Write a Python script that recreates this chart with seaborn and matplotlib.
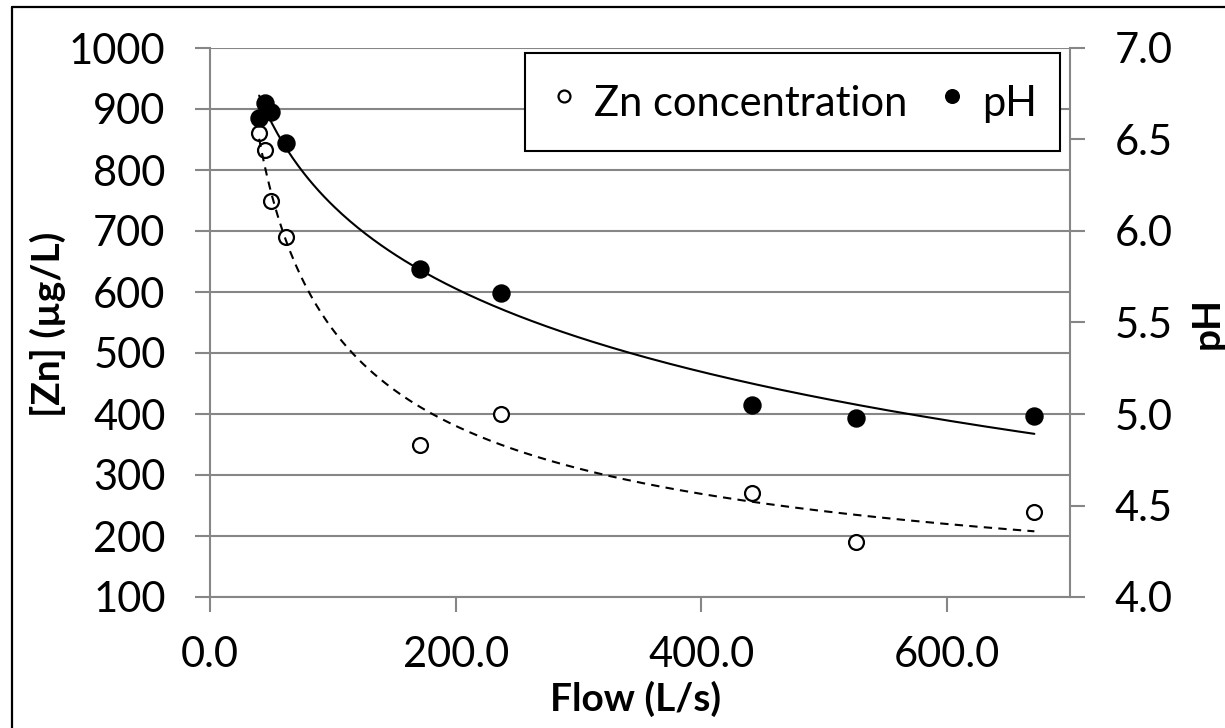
import numpy as np
import matplotlib
matplotlib.use("Agg")
import matplotlib.pyplot as plt
from matplotlib.lines import Line2D
from matplotlib.ticker import FormatStrFormatter
import seaborn as sns

# ---- data ----
flow = [40, 45, 50, 62, 171, 237, 441, 526, 671]
zn = [860, 832, 750, 690, 350, 400, 270, 190, 240]
ph = [6.62, 6.70, 6.65, 6.48, 5.79, 5.66, 5.05, 4.98, 4.99]
x_ticks = [0, 200, 400, 600]
zn_ticks = list(range(100, 1001, 100))
ph_ticks = [4.0, 4.5, 5.0, 5.5, 6.0, 6.5, 7.0]
zn_label = "Zn concentration"
ph_label = "pH"

sns.set_theme(style="white")
plt.rcParams["font.family"] = ["Lato", "DejaVu Sans"]

W, H = 1225, 728
fig = plt.figure(figsize=(W / 100, H / 100), dpi=100)
ax = fig.add_axes([210 / W, 1 - 597 / H, 860 / W, 549 / H])
ax2 = ax.twinx()

grey = "#868686"

# scatter points
sns.scatterplot(x=flow, y=zn, ax=ax, marker="o", color="white",
                edgecolor="black", linewidth=1.6, s=115, label=zn_label, zorder=3)
sns.scatterplot(x=flow, y=ph, ax=ax2, marker="o", color="black",
                edgecolor="black", linewidth=1.0, s=150, label=ph_label, zorder=3)

# trendlines (Excel-style fits computed from the data)
fx = np.linspace(min(flow), max(flow), 300)
b_zn, a_zn = np.polyfit(np.log(flow), np.log(zn), 1)  # power fit
ax.plot(fx, np.exp(a_zn) * fx ** b_zn, color="black", lw=1.5,
        linestyle=(0, (4, 3)), zorder=4)
b_ph, a_ph = np.polyfit(np.log(flow), ph, 1)  # logarithmic fit
ax2.plot(fx, a_ph + b_ph * np.log(fx), color="black", lw=1.5, zorder=4)

# axes ranges / ticks
ax.set_xlim(0, 700)
ax.set_ylim(100, 1000)
ax2.set_ylim(4.0, 7.0)
ax.set_xticks(x_ticks)
ax.set_yticks(zn_ticks)
ax2.set_yticks(ph_ticks)
ax.xaxis.set_major_formatter(FormatStrFormatter("%.1f"))
ax2.yaxis.set_major_formatter(FormatStrFormatter("%.1f"))

tick_fs = 30
ax.tick_params(axis="y", direction="out", length=11, width=1.5, color=grey,
               labelsize=tick_fs, pad=21, left=True, labelcolor="black")
ax.tick_params(axis="x", direction="out", length=11, width=1.5, color=grey,
               labelsize=tick_fs, pad=17, bottom=True, labelcolor="black")
ax2.tick_params(axis="y", direction="out", length=11, width=1.5, color=grey,
                labelsize=tick_fs, pad=21, right=True, labelcolor="black")

ax.grid(False)
ax2.grid(False)
ax.yaxis.grid(True, color=grey, lw=1.5)
ax.set_axisbelow(True)

for s in ["top", "right"]:
    ax.spines[s].set_visible(False)
for s in ["left", "bottom"]:
    ax.spines[s].set_color(grey)
    ax.spines[s].set_linewidth(1.5)
for s in ["top", "left", "bottom"]:
    ax2.spines[s].set_visible(False)
ax2.spines["right"].set_color(grey)
ax2.spines["right"].set_linewidth(1.5)

ax.set_xlabel("")
ax.set_ylabel("")
ax2.set_ylabel("")

# legend
h1, l1 = ax.get_legend_handles_labels()
h2, l2 = ax2.get_legend_handles_labels()
if ax.get_legend() is not None:
    ax.get_legend().remove()
if ax2.get_legend() is not None:
    ax2.get_legend().remove()
leg = ax2.legend(h1 + h2, l1 + l2, loc="upper left",
                 bbox_to_anchor=(525 / W, 1 - 53 / H), bbox_transform=fig.transFigure,
                 ncol=2, fontsize=30, frameon=True, fancybox=False,
                 edgecolor="black", facecolor="white", framealpha=1,
                 markerscale=0.8, borderpad=0.55, handlelength=0.75,
                 handleheight=1.55, handletextpad=0.35, columnspacing=0.7,
                 borderaxespad=0)
leg.get_frame().set_linewidth(1.5)
for t in leg.get_texts():
    t.set_color("black")

# axis titles
fig.text(636 / W, 1 - 699 / H, "Flow (L/s)", ha="center", va="center",
         fontsize=28, fontweight="bold", color="black")
fig.text(48 / W, 1 - 324 / H, "[Zn] (µg/L)", ha="center", va="center",
         rotation=90, fontsize=28, fontweight="bold", color="black")
fig.text(1207 / W, 1 - 323 / H, "pH", ha="center", va="center",
         rotation=90, fontsize=28, fontweight="bold", color="black")

# outer border (left and top only visible)
fig.add_artist(Line2D([12 / W, 12 / W], [0, 1 - 7 / H], transform=fig.transFigure,
                      color="black", lw=1.6))
fig.add_artist(Line2D([12 / W, 1], [1 - 7 / H, 1 - 7 / H], transform=fig.transFigure,
                      color="black", lw=1.6))

fig.savefig("out.png", dpi=100, facecolor="white")
